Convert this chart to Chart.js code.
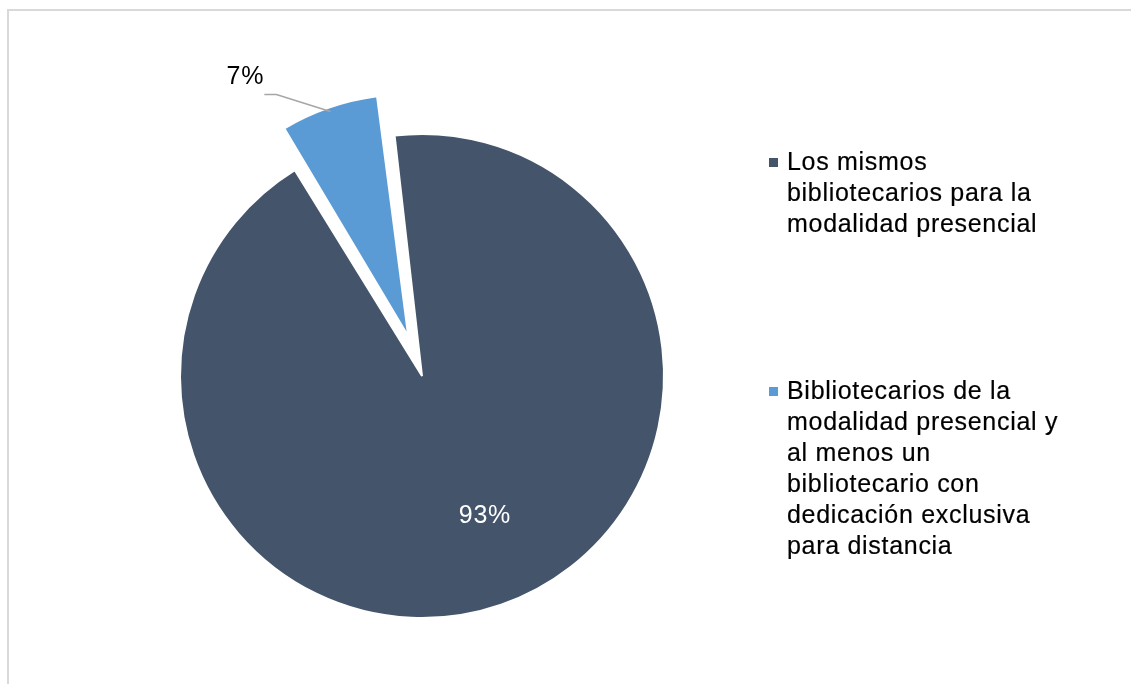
<!DOCTYPE html>
<html lang="es">
<head>
<meta charset="utf-8">
<title>Bibliotecarios para la modalidad a distancia</title>
<script src="https://cdn.jsdelivr.net/npm/chart.js@4.4.1/dist/chart.umd.min.js"></script>
<style>
  html, body { margin: 0; padding: 0; background: #fff; }
  #wrap { position: relative; width: 1131px; height: 684px; overflow: hidden; }
  #frame {
    position: absolute; left: 7px; top: 9px; width: 1300px; height: 900px;
    border-top: 2px solid #d9d9d9; border-left: 2px solid #d9d9d9;
  }
  #pie { position: absolute; left: 0; top: 0; }
  #legend {
    position: absolute; left: 769px; top: 146px;
    font: 25px "Liberation Sans", Arial, sans-serif;
    letter-spacing: 0.7px; line-height: 31px; color: #000;
    -webkit-text-stroke: 0.2px #000;
  }
  .item { position: relative; padding-left: 18px; width: 285px; }
  .item + .item { margin-top: 136px; }
  .swatch { position: absolute; left: 0; top: 12px; width: 9px; height: 9px; }
</style>
</head>
<body>
<div id="wrap">
  <div id="frame"></div>
  <canvas id="pie" width="1131" height="684"></canvas>
  <div id="legend"></div>
</div>
<script>
const categories = [
  'Los mismos bibliotecarios para la modalidad presencial',
  'Bibliotecarios de la modalidad presencial y al menos un bibliotecario con dedicación exclusiva para distancia'
];
const shares = [93, 7];

const sliceColors = ['#44546A', '#5B9BD5'];
const sliceOffsets = [0, 168];   // Chart.js moves a slice by offset / 4
const PIE_R = 242;
const LABEL_FONT = '25px "Liberation Sans", Arial, sans-serif';

// offset also grows the arc radius; pull it back so the exploded slice
// keeps the same radius as the rest of the pie
const keepRadius = {
  id: 'keepRadius',
  afterDatasetsUpdate(chart) {
    chart.getDatasetMeta(0).data.forEach(arc => {
      const shift = (arc.options.offset || 0) / 4;
      const fix = 1 - Math.sin(Math.min(Math.PI, arc.circumference));
      arc.outerRadius = PIE_R - shift * fix;
    });
  }
};

// percentage labels: inside for the big slice, outside with a leader for the small one
const sliceLabels = {
  id: 'sliceLabels',
  afterDatasetsDraw(chart) {
    const ctx = chart.ctx;
    const meta = chart.getDatasetMeta(0);
    ctx.save();
    ctx.font = LABEL_FONT;
    ctx.letterSpacing = '0.7px';
    ctx.textAlign = 'center';
    ctx.textBaseline = 'middle';
    meta.data.forEach((arc, i) => {
      const mid = (arc.startAngle + arc.endAngle) / 2;
      const shift = (arc.options.offset || 0) / 4;
      const cx = arc.x + Math.cos(mid) * shift;
      const cy = arc.y + Math.sin(mid) * shift;
      const text = shares[i] + '%';
      if (!shift) {
        const r = PIE_R * 0.63;
        ctx.fillStyle = '#ffffff';
        ctx.fillText(text, cx + Math.cos(mid) * r + 13, cy + Math.sin(mid) * r - 4);
      } else {
        const ex = cx + Math.cos(mid) * (PIE_R - 4);
        const ey = cy + Math.sin(mid) * (PIE_R - 4);
        const kx = ex - 54, ky = ey - 17;
        ctx.strokeStyle = '#a6a6a6';
        ctx.lineWidth = 1.5;
        ctx.beginPath();
        ctx.moveTo(ex, ey);
        ctx.lineTo(kx, ky);
        ctx.lineTo(kx - 12, ky);
        ctx.stroke();
        ctx.fillStyle = '#000000';
        ctx.fillText(text, kx - 31, ky - 17);
      }
    });
    ctx.restore();
  }
};

new Chart(document.getElementById('pie'), {
  type: 'pie',
  data: {
    labels: categories,
    datasets: [{
      data: shares,
      backgroundColor: sliceColors,
      borderColor: '#ffffff',
      borderWidth: 2,
      offset: sliceOffsets
    }]
  },
  options: {
    responsive: false,
    animation: false,
    events: [],
    rotation: -6.5,
    radius: PIE_R,
    layout: { padding: { left: 0, top: 68, right: 287, bottom: 0 } },
    plugins: {
      legend: { display: false },
      tooltip: { enabled: false }
    }
  },
  plugins: [keepRadius, sliceLabels]
});

// legend on the right, wrapped like the source
const legend = document.getElementById('legend');
categories.forEach((name, i) => {
  const item = document.createElement('div');
  item.className = 'item';
  const sw = document.createElement('span');
  sw.className = 'swatch';
  sw.style.background = sliceColors[i];
  item.appendChild(sw);
  item.appendChild(document.createTextNode(name));
  legend.appendChild(item);
});
</script>
</body>
</html>
